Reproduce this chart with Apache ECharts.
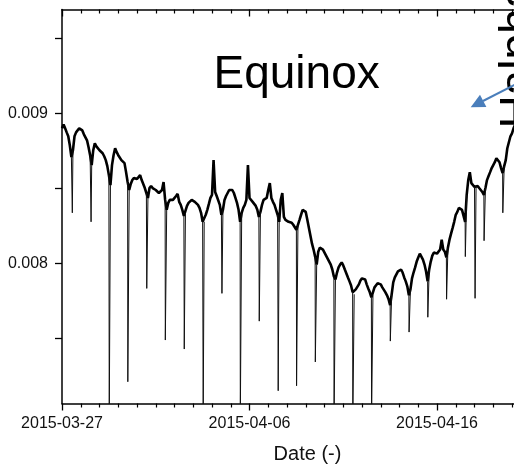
<!DOCTYPE html>
<html>
<head>
<meta charset="utf-8">
<script src="https://cdn.jsdelivr.net/npm/echarts@6/dist/echarts.min.js"></script>
<style>
  html, body { margin: 0; padding: 0; background: #fff; }
  #chart { width: 514px; height: 466px; }
</style>
</head>
<body>
<div id="chart"></div>
<script>
// x runs in days since 2015-03-27 00:00; one label every 10 days
const dateLabels = ['2015-03-27', '2015-04-06', '2015-04-16'];
const yTickValues = [0.0075, 0.008, 0.0085, 0.009, 0.0095];
const yLabelValues = [0.008, 0.009];

// Two-hourly samples (00, 02, ... 22 h) for each day
const levelByDay = [
  [0.008901, 0.008927, 0.008901, 0.008874, 0.008848, 0.008788, 0.008709, 0.008755, 0.008848, 0.008874, 0.008887, 0.008901],
  [0.008914, 0.008887, 0.008861, 0.008848, 0.008821, 0.008775, 0.008722, 0.008656, 0.008755, 0.008801, 0.008781, 0.008768],
  [0.008755, 0.008748, 0.008735, 0.008715, 0.008689, 0.008649, 0.008589, 0.008523, 0.008656, 0.008722, 0.008768, 0.008742],
  [0.008722, 0.008709, 0.008689, 0.008702, 0.008669, 0.008609, 0.008543, 0.008490, 0.008530, 0.008556, 0.008570, 0.008576],
  [0.008563, 0.008570, 0.008589, 0.008556, 0.008530, 0.008503, 0.008470, 0.008437, 0.008503, 0.008517, 0.008503, 0.008490],
  [0.008490, 0.008483, 0.008470, 0.008464, 0.008490, 0.008543, 0.008424, 0.008358, 0.008404, 0.008424, 0.008430, 0.008424],
  [0.008437, 0.008450, 0.008464, 0.008411, 0.008391, 0.008358, 0.008318, 0.008331, 0.008384, 0.008404, 0.008417, 0.008424],
  [0.008417, 0.008411, 0.008404, 0.008391, 0.008371, 0.008338, 0.008278, 0.008278, 0.008325, 0.008358, 0.008397, 0.008437],
  [0.008457, 0.008689, 0.008477, 0.008450, 0.008437, 0.008391, 0.008325, 0.008358, 0.008424, 0.008450, 0.008470, 0.008490],
  [0.008497, 0.008490, 0.008470, 0.008437, 0.008404, 0.008358, 0.008278, 0.008338, 0.008371, 0.008391, 0.008424, 0.008656],
  [0.008437, 0.008424, 0.008411, 0.008404, 0.008384, 0.008358, 0.008311, 0.008344, 0.008391, 0.008424, 0.008424, 0.008437],
  [0.008490, 0.008536, 0.008437, 0.008411, 0.008391, 0.008358, 0.008325, 0.008278, 0.008424, 0.008470, 0.008311, 0.008291],
  [0.008291, 0.008278, 0.008285, 0.008272, 0.008258, 0.008245, 0.008225, 0.008258, 0.008291, 0.008325, 0.008358, 0.008371],
  [0.008344, 0.008291, 0.008238, 0.008185, 0.008132, 0.008093, 0.008046, 0.007993, 0.008079, 0.008106, 0.008119, 0.008093],
  [0.008073, 0.008053, 0.008033, 0.008013, 0.007993, 0.007960, 0.007914, 0.007894, 0.007940, 0.007974, 0.007993, 0.008007],
  [0.007987, 0.007960, 0.007934, 0.007907, 0.007881, 0.007854, 0.007808, 0.007795, 0.007828, 0.007841, 0.007861, 0.007887],
  [0.007901, 0.007914, 0.007894, 0.007861, 0.007834, 0.007808, 0.007775, 0.007788, 0.007841, 0.007854, 0.007868, 0.007868],
  [0.007861, 0.007841, 0.007828, 0.007808, 0.007788, 0.007762, 0.007722, 0.007795, 0.007874, 0.007907, 0.007927, 0.007947],
  [0.007960, 0.007960, 0.007940, 0.007907, 0.007881, 0.007848, 0.007788, 0.007828, 0.007901, 0.007940, 0.007974, 0.008013],
  [0.008040, 0.008066, 0.008066, 0.008026, 0.007993, 0.007947, 0.007881, 0.007960, 0.008013, 0.008053, 0.008073, 0.008079],
  [0.008066, 0.008079, 0.008093, 0.008159, 0.008093, 0.008079, 0.008040, 0.008106, 0.008159, 0.008199, 0.008238, 0.008278],
  [0.008325, 0.008344, 0.008371, 0.008377, 0.008358, 0.008318, 0.008278, 0.008457, 0.008556, 0.008609, 0.008536, 0.008523],
  [0.008510, 0.008523, 0.008517, 0.008503, 0.008490, 0.008477, 0.008457, 0.008503, 0.008556, 0.008583, 0.008609, 0.008636],
  [0.008656, 0.008675, 0.008702, 0.008709, 0.008675, 0.008636, 0.008603, 0.008649, 0.008689, 0.008768, 0.008808, 0.008848],
  [0.008868, 0.008901, 0.008927]
];

// Sharp daily drops: time (days since 2015-03-27) and lowest value
const dipAt = [0.55, 1.55, 2.52, 3.51, 4.52, 5.51, 6.52, 7.53, 8.53, 9.51, 10.52, 11.53,
               12.51, 13.51, 14.51, 15.51, 16.51, 17.51, 18.51, 19.51, 20.51, 21.51, 22.03, 22.51, 23.51];
const dipValues = [0.008338, 0.008278, 0.00695, 0.007212, 0.007834, 0.007490, 0.007430, 0.00695,
                   0.007801, 0.00695, 0.007616, 0.007152, 0.007185, 0.007344, 0.00695, 0.00695,
                   0.00695, 0.007483, 0.007543, 0.007642, 0.007762, 0.008046, 0.007768, 0.008152, 0.008338];

const FONT = '"Liberation Sans", Arial, Helvetica, sans-serif';

const samples = [];
levelByDay.forEach((vals, d) => vals.forEach((v, k) => samples.push([d + k * 2 / 24, v])));

// each drop joins the two samples around it; null breaks the line between drops
const dipData = [];
dipAt.forEach((t, i) => {
  const j = samples.findIndex(s => s[0] > t);
  dipData.push(samples[j - 1], [t, dipValues[i]], samples[j], [samples[j][0], null]);
});

const axisLineStyle = { color: '#000', width: 1.5 };

const chart = echarts.init(document.getElementById('chart'), null, { renderer: 'canvas' });
chart.setOption({
  animation: false,
  backgroundColor: '#fff',
  // 30 days at 18.75 px per day; the right part runs past the page edge
  grid: { left: 62, top: 9.5, width: 562.5, height: 394, outerBoundsMode: 'none', containLabel: false },
  xAxis: [
    {
      type: 'value', min: 0, max: 30, interval: 10, position: 'bottom',
      axisLine: { onZero: false, lineStyle: axisLineStyle },
      axisTick: { length: 7, lineStyle: { color: '#000', width: 1.3 } },
      minorTick: { show: true, splitNumber: 10, length: 4, lineStyle: { color: '#000', width: 1.2 } },
      splitLine: { show: false },
      axisLabel: {
        formatter: v => dateLabels[Math.round(v / 10)] || '',
        fontSize: 16, fontFamily: FONT, color: '#111', margin: 12
      }
    },
    {
      type: 'value', min: 0, max: 30, interval: 10, position: 'top',
      axisLine: { onZero: false, lineStyle: axisLineStyle },
      axisTick: { inside: true, length: 7, lineStyle: { color: '#000', width: 1.3 } },
      minorTick: { show: true, splitNumber: 10, length: 4, lineStyle: { color: '#000', width: 1.2 } },
      splitLine: { show: false },
      axisLabel: { show: false }
    }
  ],
  yAxis: {
    type: 'value', min: 0.007067, max: 0.009693,
    axisLine: { show: true, onZero: false, lineStyle: axisLineStyle },
    axisTick: { show: true, customValues: yTickValues, length: 7, lineStyle: { color: '#000', width: 1.3 } },
    splitLine: { show: false },
    axisLabel: {
      customValues: yLabelValues,
      formatter: v => v.toFixed(3),
      fontSize: 16, fontFamily: FONT, color: '#111', margin: 14
    }
  },
  series: [
    {
      type: 'line', data: samples, showSymbol: false, symbol: 'none',
      lineStyle: { color: '#000', width: 2.6 }, z: 2
    },
    {
      type: 'line', data: dipData, showSymbol: false, symbol: 'none', connectNulls: false,
      lineStyle: { color: '#111', width: 1 }, z: 3
    }
  ],
  graphic: [
    {
      type: 'text', x: 213.5, y: 75,
      style: { text: 'Equinox', fontSize: 46, fontFamily: FONT, fill: '#000', align: 'left', verticalAlign: 'middle' }
    },
    {
      type: 'text', x: 519, y: 128.6, rotation: Math.PI / 2,
      style: { text: 'Halpha', fontSize: 46, fontFamily: FONT, fill: '#000', align: 'left', verticalAlign: 'middle' }
    },
    {
      type: 'line', shape: { x1: 522, y1: 81, x2: 483, y2: 101 },
      style: { stroke: '#4a7ebb', lineWidth: 2 }
    },
    {
      type: 'polygon', shape: { points: [[470.7, 107.3], [486.4, 107.1], [480, 94.7]] },
      style: { fill: '#4a7ebb' }
    },
    {
      type: 'text', x: 307.5, y: 454,
      style: { text: 'Date (-)', fontSize: 20, fontFamily: FONT, fill: '#111', align: 'center', verticalAlign: 'middle' }
    }
  ]
});
</script>
</body>
</html>
